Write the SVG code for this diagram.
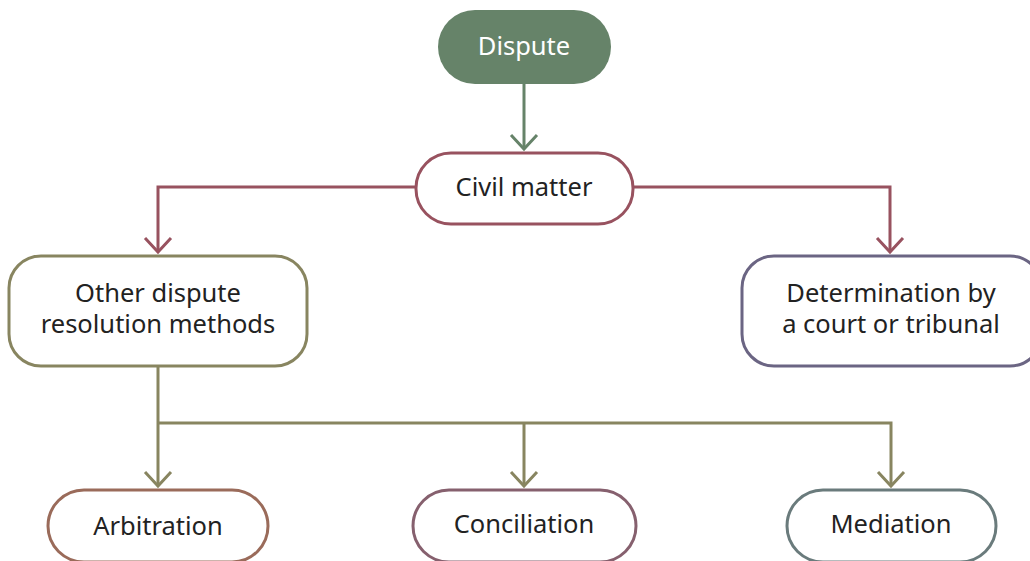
<svg xmlns="http://www.w3.org/2000/svg" width="1030" height="561" viewBox="0 0 1030 561">
  <style>
    .box { fill: #ffffff; stroke-width: 3; }
    .lbl { font-family: "Noto Sans", "Lato", sans-serif; font-size: 25.5px; fill: #222222; text-anchor: middle; }
    .wire { fill: none; stroke-width: 3; }
    .head { fill: none; stroke-width: 3; }
  </style>
  <rect width="1030" height="561" fill="#ffffff"/>

  <g id="connectors">
    <!-- Dispute to Civil matter -->
    <path class="wire" stroke="#668369" d="M524 84 V149"/>
    <path class="head" stroke="#668369" d="M511 135 L524 149 L537 135"/>
    <!-- Civil matter branches -->
    <path class="wire" stroke="#98525f" d="M416 187 H158 V252"/>
    <path class="head" stroke="#98525f" d="M145 238 L158 252 L171 238"/>
    <path class="wire" stroke="#98525f" d="M633 187 H890 V252"/>
    <path class="head" stroke="#98525f" d="M877 238 L890 252 L903 238"/>
    <!-- Other methods to the three options -->
    <path class="wire" stroke="#888560" d="M158 367 V486 M158 423 H891 V486 M524 423 V486"/>
    <path class="head" stroke="#888560" d="M145 472 L158 486 L171 472"/>
    <path class="head" stroke="#888560" d="M511 472 L524 486 L537 472"/>
    <path class="head" stroke="#888560" d="M878 472 L891 486 L904 472"/>
  </g>

  <g id="dispute">
    <rect x="438" y="10" width="173" height="74" rx="37" fill="#668369"/>
    <text class="lbl" x="524" y="55" style="fill:#ffffff">Dispute</text>
  </g>

  <g id="civil-matter">
    <rect class="box" x="416" y="153" width="217" height="71" rx="35" stroke="#98525f"/>
    <text class="lbl" x="524" y="196">Civil matter</text>
  </g>

  <g id="other-methods">
    <rect class="box" x="9" y="256" width="298" height="110" rx="32" stroke="#888560"/>
    <text class="lbl" x="158" y="302">Other dispute</text>
    <text class="lbl" x="158" y="333">resolution methods</text>
  </g>

  <g id="court-tribunal">
    <rect class="box" x="742" y="256" width="300" height="110" rx="32" stroke="#6b6583"/>
    <text class="lbl" x="891" y="302">Determination by</text>
    <text class="lbl" x="891" y="333">a court or tribunal</text>
  </g>

  <g id="arbitration">
    <rect class="box" x="48" y="490" width="220" height="72" rx="36" stroke="#9a6b5a"/>
    <text class="lbl" x="158" y="535">Arbitration</text>
  </g>

  <g id="conciliation">
    <rect class="box" x="413" y="490" width="223" height="72" rx="36" stroke="#86606e"/>
    <text class="lbl" x="524" y="533">Conciliation</text>
  </g>

  <g id="mediation">
    <rect class="box" x="787" y="490" width="209" height="72" rx="36" stroke="#6a7b7c"/>
    <text class="lbl" x="891" y="533">Mediation</text>
  </g>
</svg>
